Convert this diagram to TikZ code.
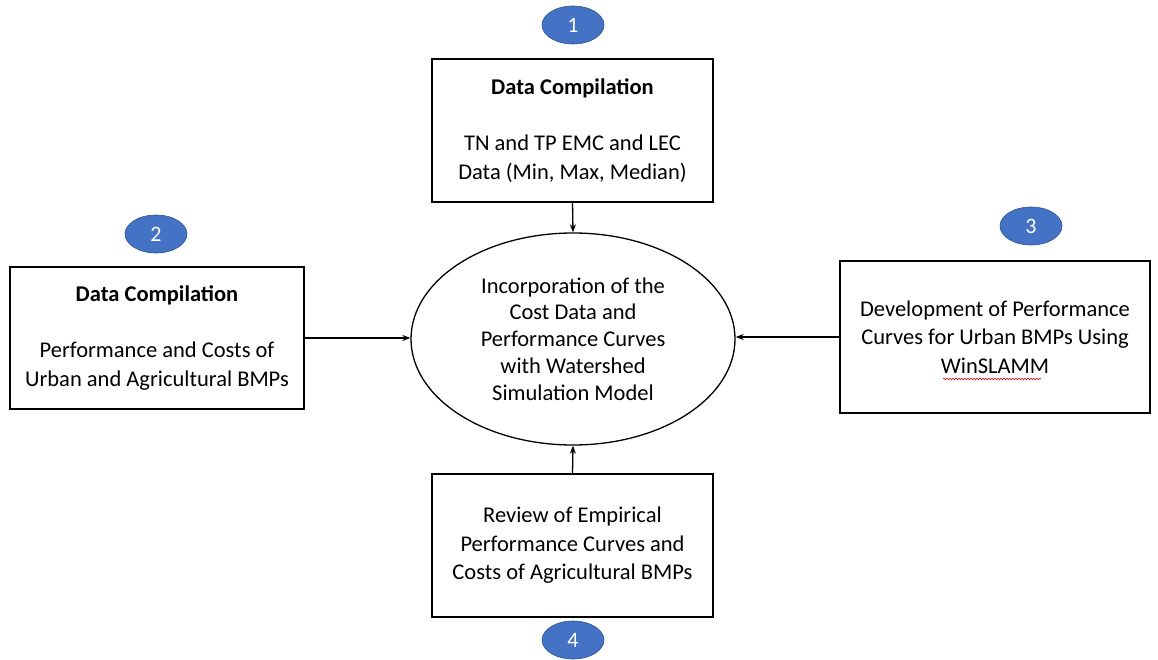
\documentclass[tikz,border=0pt]{standalone}
\usepackage{fontspec}
\setmainfont{Carlito}
\usetikzlibrary{shapes.geometric,arrows.meta,calc,decorations.pathmorphing}
\definecolor{badgeblue}{HTML}{4472C4}
\definecolor{badgeedge}{HTML}{2F528F}
\tikzset{
  stepbox/.style={draw=black, line width=1.6pt, rectangle, align=center, inner sep=0pt,
    font=\fontsize{22.5}{28.5}\selectfont},
  badge/.style={ellipse, fill=badgeblue, draw=badgeedge, line width=0.6pt,
    minimum width=62pt, minimum height=38pt, inner sep=0pt, text=white,
    font=\fontsize{22}{24}\selectfont},
  hub/.style={ellipse, draw=black, line width=1.3pt, minimum width=324pt, minimum height=212pt,
    inner sep=0pt, align=center, font=\fontsize{22.5}{26.8}\selectfont},
  conn/.style={line width=1.3pt, -{Stealth[length=8pt,width=6pt]}}
}
\begin{document}
\begin{tikzpicture}[x=1pt,y=-1pt]
\useasboundingbox (0,0) rectangle (1158,660);
\node[hub] (hub) at (573,339) {Incorporation of the\\Cost Data and\\Performance Curves\\with Watershed\\Simulation Model};
\node[stepbox, minimum width=281pt, minimum height=143pt] (b1) at (572.5,130.5)
  {{\bfseries Data Compilation}\\[28pt]TN and TP EMC and LEC\\Data (Min, Max, Median)};
\node[stepbox, minimum width=294pt, minimum height=142pt] (b2) at (157,338)
  {{\bfseries Data Compilation}\\[28pt]Performance and Costs of\\Urban and Agricultural BMPs};
\node[stepbox, minimum width=310pt, minimum height=152pt] (b3) at (995,337)
  {Development of Performance\\Curves for Urban BMPs Using\\WinSLAMM};
\node[stepbox, minimum width=281pt, minimum height=143pt] (b4) at (572.5,545.5)
  {Review of Empirical\\Performance Curves and\\Costs of Agricultural BMPs};
\node[badge] (n1) at (573,25) {1};
\node[badge] (n2) at (156,234) {2};
\node[badge] (n3) at (1031,226) {3};
\node[badge] (n4) at (573,640) {4};
\draw[conn] (b1.south) -- (hub.north);
\draw[conn] (b2.east) -- (b2.east -| hub.west);
\draw[conn] (b3.west) -- (b3.west -| hub.east);
\draw[conn] (b4.north) -- (hub.south);
\draw[red!80!black, line width=0.6pt, decorate, decoration={snake, amplitude=0.8pt, segment length=3pt}]
  ($(b3.center)+(-52,42)$) -- ($(b3.center)+(46,42)$);
\end{tikzpicture}
\end{document}
